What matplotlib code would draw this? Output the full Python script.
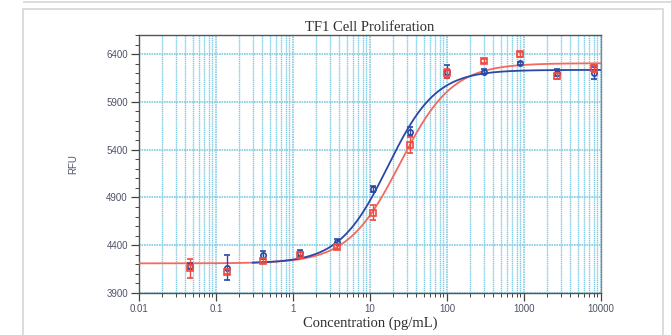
import numpy as np
import matplotlib
matplotlib.use('Agg')
import matplotlib.pyplot as plt
from matplotlib.ticker import LogLocator, MultipleLocator, FixedLocator, NullFormatter
from matplotlib.patches import Rectangle

# concentrations (pg/mL), 3-fold dilution series
conc = [0.0457, 0.137, 0.412, 1.23, 3.70, 11.1, 33.3, 100, 300, 900, 2700, 8100]

# mean RFU and error, blue series (circles)
blue_y = [4180, 4165, 4298, 4315, 4437, 4988, 5588, 6216, 6216, 6303, 6206, 6200]
blue_err = [30, 130, 40, 40, 25, 35, 45, 65, 25, 15, 35, 65]
# mean RFU and error, red series (squares)
red_y = [4160, 4123, 4238, 4298, 4385, 4740, 5452, 6200, 6330, 6400, 6171, 6250]
red_err = [100, 25, 25, 35, 25, 78, 85, 45, 20, 25, 30, 35]

# 4PL fit parameters: bottom, top, EC50, hill
blue_fit = [4210, 6235, 17.0, 1.38]
red_fit = [4210, 6305, 24.6, 1.28]

xticks = [0.01, 0.1, 1, 10, 100, 1000, 10000]
xticklabels = ['0.01', '0.1', '1', '10', '100', '1000', '10000']
yticks = [3900, 4400, 4900, 5400, 5900, 6400]

BLUE = '#2a49a6'
RED = '#ee4a40'
RED_LINE = '#f26a5e'
GRID = '#80cbe3'
TICKCOL = '#4f5366'


def four_pl(x, p):
    b, t, c, h = p
    return b + (t - b) / (1 + (c / x) ** h)


fig = plt.figure(figsize=(6.71, 3.35), dpi=100)
# outer gray frame like the original screenshot
fig.patches.append(Rectangle((23 / 671, -0.05), 640 / 671, 1.05 - 9 / 335,
                             transform=fig.transFigure, fill=False,
                             edgecolor='#d6d6d6', lw=1.2))
fig.patches.append(Rectangle((23 / 671, 1 - 1.5 / 335), 1, 0,
                             transform=fig.transFigure, fill=False,
                             edgecolor='#dcdcdc', lw=1.2))

ax = fig.add_axes([139 / 671, 1 - 293 / 335, 462 / 671, 258 / 335])
ax.set_xscale('log')
ax.set_xlim(0.01, 10000)
ax.set_ylim(3900, 6600)

# grid
ax.xaxis.set_major_locator(FixedLocator(xticks))
ax.xaxis.set_minor_locator(LogLocator(base=10, subs=np.arange(2, 10)))
ax.xaxis.set_minor_formatter(NullFormatter())
ax.set_xticklabels(xticklabels)
ax.yaxis.set_major_locator(FixedLocator(yticks))
ax.yaxis.set_minor_locator(MultipleLocator(100))
ax.grid(True, which='major', axis='both', color=GRID, lw=1.2, ls=(0, (1, 0.5)))
ax.grid(True, which='minor', axis='x', color=GRID, lw=1.0, ls=(0, (1, 0.5)))
ax.set_axisbelow(True)

# fitted curves
xr = np.logspace(-2, 4, 400)
ax.plot(xr, four_pl(xr, red_fit), color=RED_LINE, lw=1.3, zorder=3)
xb = np.logspace(np.log10(0.3), 4, 300)
ax.plot(xb, four_pl(xb, blue_fit), color=BLUE, lw=1.3, zorder=4)

# data points
ax.errorbar(conc, blue_y, yerr=blue_err, fmt='o', mfc='none', mec=BLUE,
            ecolor=BLUE, ms=3.8, mew=1.2, capsize=2.5, elinewidth=1.0, zorder=5)
ax.errorbar(conc, red_y, yerr=red_err, fmt='s', mfc='none', mec=RED,
            ecolor=RED, ms=3.8, mew=1.2, capsize=2.5, elinewidth=1.0, zorder=6)

for s in ax.spines.values():
    s.set_color('#555555')
    s.set_linewidth(1.0)
ax.spines['right'].set_color('#888888')

ax.tick_params(which='major', direction='out', length=6, width=0.9,
               color='#444444', labelsize=7, labelcolor=TICKCOL, pad=2)
ax.tick_params(which='minor', direction='out', length=3, width=0.7, color='#444444')
for lab in ax.get_xticklabels() + ax.get_yticklabels():
    lab.set_family('Liberation Sans')

ax.set_title('TF1 Cell Proliferation', family='Liberation Serif', fontsize=10.5,
             color='#2e2e2e', pad=3)
ax.set_xlabel('Concentration (pg/mL)', family='Liberation Serif', fontsize=10.5,
              color='#2e2e2e', labelpad=2)
ax.set_ylabel('RFU', family='Liberation Sans', fontsize=7, color=TICKCOL,
              labelpad=20)

fig.savefig('out.png', dpi=100)
